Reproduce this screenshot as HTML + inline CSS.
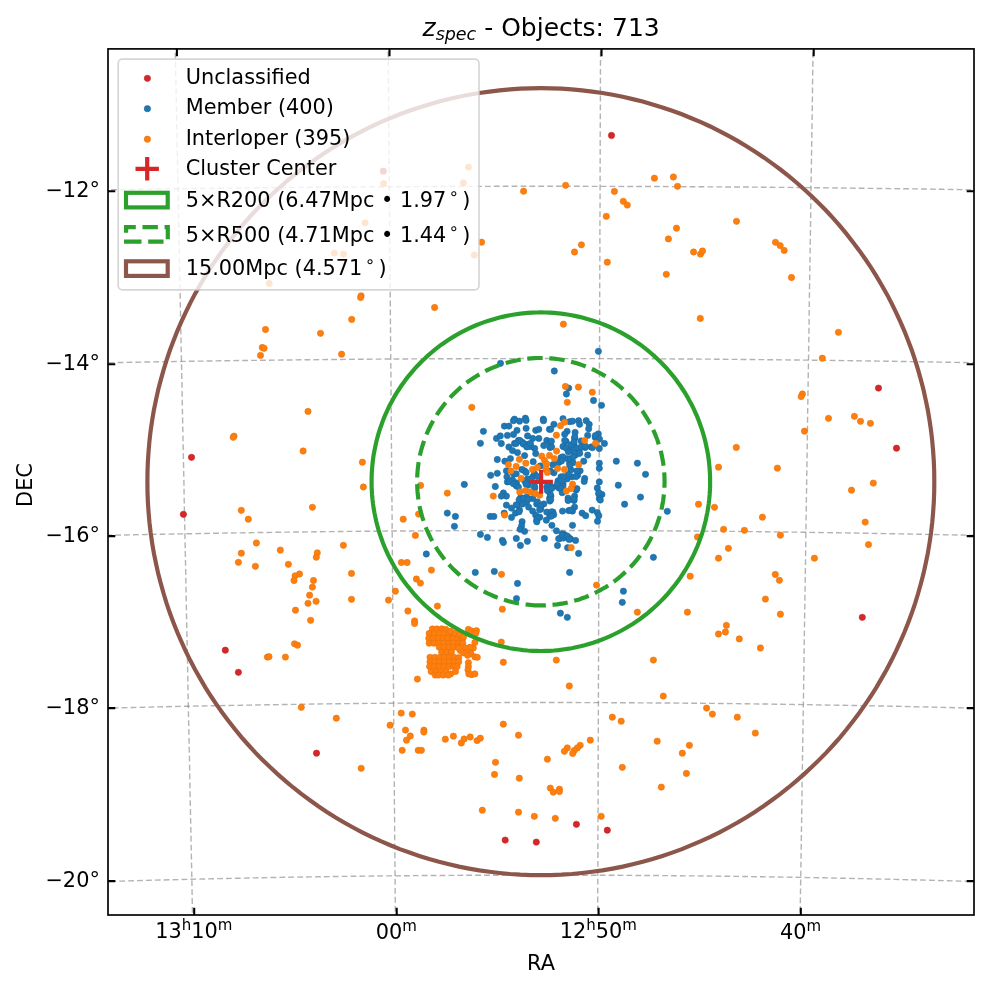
<!DOCTYPE html>
<html><head><meta charset="utf-8"><title>z_spec - Objects: 713</title>
<style>html,body{margin:0;padding:0;background:#fff}svg{display:block}text{font-family:"DejaVu Sans","Liberation Sans",sans-serif;fill:#000}</style></head><body>
<svg width="989" height="989" viewBox="0 0 989 989">
<rect width="989" height="989" fill="#fff"/>
<defs><clipPath id="ax"><rect x="108.0" y="48.9" width="866.0" height="866.1"/></clipPath></defs>
<g clip-path="url(#ax)">
<g fill="none" stroke="#808080" stroke-opacity="0.6" stroke-width="1.4" stroke-dasharray="5.8 3.1">
<path d="M-144.5,20.3 L-127.0,19.9 L-109.4,19.6 L-91.9,19.3 L-74.4,18.9 L-56.9,18.6 L-39.5,18.3 L-22.0,18.0 L-4.6,17.7 L12.8,17.5 L30.3,17.2 L47.7,16.9 L65.1,16.7 L82.4,16.5 L99.8,16.2 L117.2,16.0 L134.5,15.8 L151.9,15.6 L169.2,15.4 L186.5,15.2 L203.8,15.0 L221.1,14.9 L238.4,14.7 L255.7,14.5 L273.0,14.4 L290.3,14.3 L307.6,14.1 L324.8,14.0 L342.1,13.9 L359.3,13.8 L376.6,13.7 L393.8,13.7 L411.1,13.6 L428.3,13.5 L445.6,13.5 L462.8,13.4 L480.0,13.4 L497.3,13.4 L514.5,13.4 L531.8,13.3 L549.0,13.3 L566.2,13.4 L583.5,13.4 L600.7,13.4 L617.9,13.4 L635.2,13.5 L652.4,13.5 L669.6,13.6 L686.9,13.7 L704.1,13.7 L721.4,13.8 L738.7,13.9 L755.9,14.0 L773.2,14.1 L790.5,14.3 L807.7,14.4 L825.0,14.5 L842.3,14.7 L859.6,14.9 L876.9,15.0 L894.2,15.2 L911.6,15.4 L928.9,15.6 L946.2,15.8 L963.6,16.0 L980.9,16.2 L998.3,16.5 L1015.7,16.7 L1033.1,16.9 L1050.5,17.2 L1067.9,17.5 L1085.3,17.7 L1102.8,18.0 L1120.2,18.3 L1137.7,18.6 L1155.2,18.9 L1172.7,19.3 L1190.2,19.6 L1207.7,19.9 L1225.2,20.3"/>
<path d="M-138.0,194.8 L-120.6,194.4 L-103.2,194.0 L-85.9,193.6 L-68.6,193.2 L-51.3,192.8 L-34.0,192.4 L-16.7,192.0 L0.6,191.7 L17.9,191.4 L35.1,191.0 L52.3,190.7 L69.6,190.4 L86.8,190.1 L104.0,189.8 L121.2,189.6 L138.4,189.3 L155.5,189.0 L172.7,188.8 L189.9,188.6 L207.0,188.4 L224.2,188.2 L241.3,188.0 L258.4,187.8 L275.5,187.6 L292.6,187.4 L309.8,187.3 L326.9,187.1 L344.0,187.0 L361.1,186.9 L378.1,186.8 L395.2,186.7 L412.3,186.6 L429.4,186.5 L446.5,186.5 L463.5,186.4 L480.6,186.4 L497.7,186.3 L514.8,186.3 L531.8,186.3 L548.9,186.3 L566.0,186.3 L583.0,186.3 L600.1,186.4 L617.2,186.4 L634.3,186.5 L651.3,186.5 L668.4,186.6 L685.5,186.7 L702.6,186.8 L719.7,186.9 L736.8,187.0 L753.9,187.1 L771.0,187.3 L788.1,187.4 L805.2,187.6 L822.3,187.8 L839.5,188.0 L856.6,188.2 L873.7,188.4 L890.9,188.6 L908.0,188.8 L925.2,189.0 L942.4,189.3 L959.6,189.6 L976.8,189.8 L994.0,190.1 L1011.2,190.4 L1028.4,190.7 L1045.6,191.0 L1062.9,191.4 L1080.1,191.7 L1097.4,192.0 L1114.7,192.4 L1132.0,192.8 L1149.3,193.2 L1166.6,193.6 L1184.0,194.0 L1201.3,194.4 L1218.7,194.8"/>
<path d="M-131.5,368.6 L-114.3,368.0 L-97.1,367.6 L-79.9,367.1 L-62.7,366.6 L-45.6,366.2 L-28.5,365.7 L-11.3,365.3 L5.8,364.9 L22.9,364.5 L39.9,364.1 L57.0,363.7 L74.1,363.4 L91.1,363.0 L108.1,362.7 L125.2,362.4 L142.2,362.1 L159.2,361.8 L176.2,361.5 L193.2,361.2 L210.2,361.0 L227.2,360.7 L244.1,360.5 L261.1,360.3 L278.1,360.1 L295.0,359.9 L311.9,359.7 L328.9,359.5 L345.8,359.4 L362.8,359.2 L379.7,359.1 L396.6,359.0 L413.5,358.9 L430.4,358.8 L447.4,358.7 L464.3,358.7 L481.2,358.6 L498.1,358.6 L515.0,358.6 L531.9,358.5 L548.8,358.5 L565.7,358.6 L582.6,358.6 L599.6,358.6 L616.5,358.7 L633.4,358.7 L650.3,358.8 L667.2,358.9 L684.1,359.0 L701.1,359.1 L718.0,359.2 L734.9,359.4 L751.8,359.5 L768.8,359.7 L785.7,359.9 L802.7,360.1 L819.6,360.3 L836.6,360.5 L853.6,360.7 L870.6,361.0 L887.5,361.2 L904.5,361.5 L921.5,361.8 L938.5,362.1 L955.6,362.4 L972.6,362.7 L989.6,363.0 L1006.7,363.4 L1023.7,363.7 L1040.8,364.1 L1057.9,364.5 L1075.0,364.9 L1092.1,365.3 L1109.2,365.7 L1126.3,366.2 L1143.5,366.6 L1160.6,367.1 L1177.8,367.6 L1195.0,368.0 L1212.2,368.6"/>
<path d="M-125.0,542.0 L-107.9,541.4 L-90.9,540.8 L-73.9,540.3 L-56.9,539.7 L-39.9,539.2 L-23.0,538.7 L-6.0,538.2 L10.9,537.8 L27.8,537.3 L44.7,536.9 L61.7,536.4 L78.5,536.0 L95.4,535.6 L112.3,535.2 L129.2,534.9 L146.0,534.5 L162.9,534.2 L179.7,533.9 L196.5,533.6 L213.4,533.3 L230.2,533.0 L247.0,532.7 L263.8,532.5 L280.6,532.2 L297.4,532.0 L314.1,531.8 L330.9,531.6 L347.7,531.4 L364.5,531.3 L381.2,531.1 L398.0,531.0 L414.7,530.9 L431.5,530.8 L448.3,530.7 L465.0,530.6 L481.8,530.6 L498.5,530.5 L515.2,530.5 L532.0,530.5 L548.7,530.5 L565.5,530.5 L582.2,530.5 L599.0,530.6 L615.7,530.6 L632.5,530.7 L649.2,530.8 L666.0,530.9 L682.8,531.0 L699.5,531.1 L716.3,531.3 L733.0,531.4 L749.8,531.6 L766.6,531.8 L783.4,532.0 L800.2,532.2 L817.0,532.5 L833.8,532.7 L850.6,533.0 L867.4,533.3 L884.2,533.6 L901.0,533.9 L917.9,534.2 L934.7,534.5 L951.6,534.9 L968.4,535.2 L985.3,535.6 L1002.2,536.0 L1019.1,536.4 L1036.0,536.9 L1052.9,537.3 L1069.8,537.8 L1086.8,538.2 L1103.7,538.7 L1120.7,539.2 L1137.7,539.7 L1154.7,540.3 L1171.7,540.8 L1188.7,541.4 L1205.7,542.0"/>
<path d="M-118.5,715.5 L-101.6,714.8 L-84.8,714.2 L-67.9,713.6 L-51.1,713.0 L-34.3,712.4 L-17.5,711.8 L-0.7,711.3 L16.1,710.7 L32.8,710.2 L49.6,709.7 L66.3,709.2 L83.0,708.8 L99.7,708.3 L116.5,707.9 L133.2,707.5 L149.8,707.1 L166.5,706.7 L183.2,706.3 L199.9,706.0 L216.5,705.7 L233.2,705.4 L249.8,705.1 L266.5,704.8 L283.1,704.5 L299.7,704.3 L316.3,704.0 L332.9,703.8 L349.6,703.6 L366.2,703.4 L382.8,703.3 L399.4,703.1 L416.0,703.0 L432.6,702.9 L449.1,702.8 L465.7,702.7 L482.3,702.6 L498.9,702.6 L515.5,702.5 L532.1,702.5 L548.7,702.5 L565.2,702.5 L581.8,702.6 L598.4,702.6 L615.0,702.7 L631.6,702.8 L648.2,702.9 L664.8,703.0 L681.4,703.1 L698.0,703.3 L714.6,703.4 L731.2,703.6 L747.8,703.8 L764.4,704.0 L781.0,704.3 L797.7,704.5 L814.3,704.8 L830.9,705.1 L847.6,705.4 L864.2,705.7 L880.9,706.0 L897.5,706.3 L914.2,706.7 L930.9,707.1 L947.6,707.5 L964.3,707.9 L981.0,708.3 L997.7,708.8 L1014.4,709.2 L1031.2,709.7 L1047.9,710.2 L1064.7,710.7 L1081.5,711.3 L1098.2,711.8 L1115.0,712.4 L1131.8,713.0 L1148.7,713.6 L1165.5,714.2 L1182.4,714.8 L1199.2,715.5"/>
<path d="M-112.0,889.5 L-95.3,888.8 L-78.6,888.1 L-61.9,887.4 L-45.3,886.7 L-28.6,886.1 L-12.0,885.4 L4.6,884.8 L21.2,884.2 L37.8,883.7 L54.4,883.1 L71.0,882.6 L87.5,882.1 L104.1,881.6 L120.6,881.1 L137.2,880.6 L153.7,880.2 L170.2,879.8 L186.7,879.4 L203.2,879.0 L219.7,878.6 L236.2,878.3 L252.7,877.9 L269.1,877.6 L285.6,877.3 L302.1,877.0 L318.5,876.8 L335.0,876.5 L351.4,876.3 L367.9,876.1 L384.3,875.9 L400.7,875.8 L417.2,875.6 L433.6,875.5 L450.0,875.4 L466.5,875.3 L482.9,875.2 L499.3,875.2 L515.7,875.1 L532.2,875.1 L548.6,875.1 L565.0,875.1 L581.4,875.2 L597.8,875.2 L614.3,875.3 L630.7,875.4 L647.1,875.5 L663.6,875.6 L680.0,875.8 L696.4,875.9 L712.9,876.1 L729.3,876.3 L745.8,876.5 L762.2,876.8 L778.7,877.0 L795.1,877.3 L811.6,877.6 L828.1,877.9 L844.6,878.3 L861.0,878.6 L877.5,879.0 L894.0,879.4 L910.5,879.8 L927.1,880.2 L943.6,880.6 L960.1,881.1 L976.7,881.6 L993.2,882.1 L1009.8,882.6 L1026.3,883.1 L1042.9,883.7 L1059.5,884.2 L1076.1,884.8 L1092.7,885.4 L1109.4,886.1 L1126.0,886.7 L1142.7,887.4 L1159.3,888.1 L1176.0,888.8 L1192.7,889.5"/>
<path d="M-105.4,1064.4 L-88.9,1063.7 L-72.4,1062.9 L-55.9,1062.1 L-39.4,1061.4 L-22.9,1060.7 L-6.5,1060.0 L10.0,1059.3 L26.4,1058.7 L42.8,1058.1 L59.3,1057.4 L75.7,1056.9 L92.1,1056.3 L108.4,1055.7 L124.8,1055.2 L141.2,1054.7 L157.5,1054.2 L173.9,1053.8 L190.2,1053.3 L206.6,1052.9 L222.9,1052.5 L239.2,1052.1 L255.5,1051.8 L271.8,1051.4 L288.1,1051.1 L304.4,1050.8 L320.7,1050.5 L337.0,1050.2 L353.3,1050.0 L369.6,1049.8 L385.9,1049.6 L402.1,1049.4 L418.4,1049.2 L434.7,1049.1 L450.9,1049.0 L467.2,1048.9 L483.5,1048.8 L499.7,1048.7 L516.0,1048.7 L532.2,1048.7 L548.5,1048.7 L564.8,1048.7 L581.0,1048.7 L597.3,1048.8 L613.5,1048.9 L629.8,1049.0 L646.1,1049.1 L662.3,1049.2 L678.6,1049.4 L694.9,1049.6 L711.2,1049.8 L727.4,1050.0 L743.7,1050.2 L760.0,1050.5 L776.3,1050.8 L792.6,1051.1 L808.9,1051.4 L825.2,1051.8 L841.5,1052.1 L857.8,1052.5 L874.2,1052.9 L890.5,1053.3 L906.8,1053.8 L923.2,1054.2 L939.6,1054.7 L955.9,1055.2 L972.3,1055.7 L988.7,1056.3 L1005.1,1056.9 L1021.5,1057.4 L1037.9,1058.1 L1054.3,1058.7 L1070.8,1059.3 L1087.2,1060.0 L1103.7,1060.7 L1120.1,1061.4 L1136.6,1062.1 L1153.1,1062.9 L1169.6,1063.7 L1186.2,1064.4"/>
<path d="M-42.8,-69.1 L-42.2,-49.8 L-41.6,-30.5 L-41.0,-11.3 L-40.4,8.0 L-39.8,27.2 L-39.2,46.4 L-38.6,65.6 L-38.0,84.8 L-37.3,104.0 L-36.7,123.2 L-36.1,142.4 L-35.5,161.5 L-34.9,180.6 L-34.3,199.8 L-33.7,218.9 L-33.1,238.0 L-32.5,257.1 L-31.9,276.2 L-31.3,295.3 L-30.7,314.4 L-30.1,333.5 L-29.5,352.5 L-28.9,371.6 L-28.3,390.7 L-27.7,409.7 L-27.0,428.8 L-26.4,447.9 L-25.8,466.9 L-25.2,486.0 L-24.6,505.0 L-24.0,524.1 L-23.4,543.1 L-22.8,562.2 L-22.2,581.3 L-21.6,600.3 L-21.0,619.4 L-20.4,638.5 L-19.8,657.5 L-19.2,676.6 L-18.6,695.7 L-18.0,714.8 L-17.4,733.9 L-16.8,753.0 L-16.2,772.1 L-15.6,791.2 L-14.9,810.3 L-14.3,829.5 L-13.7,848.6 L-13.1,867.8 L-12.5,886.9 L-11.9,906.1 L-11.3,925.3 L-10.7,944.5 L-10.1,963.7 L-9.5,982.9 L-8.9,1002.2 L-8.2,1021.5 L-7.6,1040.7 L-7.0,1060.0"/>
<path d="M172.8,-71.8 L173.2,-52.6 L173.6,-33.4 L174.0,-14.2 L174.3,5.0 L174.7,24.2 L175.1,43.3 L175.5,62.5 L175.9,81.6 L176.3,100.7 L176.6,119.8 L177.0,138.9 L177.4,157.9 L177.8,177.0 L178.2,196.1 L178.5,215.1 L178.9,234.2 L179.3,253.2 L179.7,272.2 L180.1,291.2 L180.4,310.2 L180.8,329.2 L181.2,348.3 L181.6,367.3 L182.0,386.2 L182.3,405.2 L182.7,424.2 L183.1,443.2 L183.5,462.2 L183.9,481.2 L184.2,500.2 L184.6,519.2 L185.0,538.1 L185.4,557.1 L185.8,576.1 L186.1,595.1 L186.5,614.1 L186.9,633.1 L187.3,652.1 L187.7,671.1 L188.0,690.1 L188.4,709.2 L188.8,728.2 L189.2,747.2 L189.6,766.3 L189.9,785.3 L190.3,804.4 L190.7,823.4 L191.1,842.5 L191.5,861.6 L191.9,880.7 L192.2,899.8 L192.6,918.9 L193.0,938.1 L193.4,957.2 L193.8,976.4 L194.1,995.6 L194.5,1014.8 L194.9,1034.0 L195.3,1053.2"/>
<path d="M387.1,-73.2 L387.3,-54.1 L387.5,-34.9 L387.6,-15.7 L387.8,3.4 L387.9,22.5 L388.1,41.6 L388.3,60.7 L388.4,79.8 L388.6,98.9 L388.7,117.9 L388.9,137.0 L389.1,156.0 L389.2,175.0 L389.4,194.0 L389.5,213.0 L389.7,232.0 L389.8,251.0 L390.0,270.0 L390.2,289.0 L390.3,308.0 L390.5,326.9 L390.6,345.9 L390.8,364.9 L391.0,383.8 L391.1,402.8 L391.3,421.7 L391.4,440.7 L391.6,459.6 L391.7,478.6 L391.9,497.5 L392.1,516.5 L392.2,535.4 L392.4,554.4 L392.5,573.3 L392.7,592.3 L392.8,611.2 L393.0,630.2 L393.2,649.2 L393.3,668.1 L393.5,687.1 L393.6,706.1 L393.8,725.1 L394.0,744.1 L394.1,763.1 L394.3,782.1 L394.4,801.1 L394.6,820.1 L394.7,839.2 L394.9,858.2 L395.1,877.3 L395.2,896.4 L395.4,915.5 L395.5,934.6 L395.7,953.7 L395.9,972.8 L396.0,991.9 L396.2,1011.1 L396.3,1030.3 L396.5,1049.5"/>
<path d="M600.9,-73.5 L600.9,-54.3 L600.8,-35.2 L600.7,-16.0 L600.7,3.1 L600.6,22.2 L600.6,41.3 L600.5,60.4 L600.4,79.5 L600.4,98.5 L600.3,117.6 L600.2,136.6 L600.2,155.6 L600.1,174.7 L600.1,193.7 L600.0,212.7 L599.9,231.7 L599.9,250.7 L599.8,269.6 L599.7,288.6 L599.7,307.6 L599.6,326.5 L599.6,345.5 L599.5,364.4 L599.4,383.4 L599.4,402.3 L599.3,421.3 L599.2,440.2 L599.2,459.2 L599.1,478.1 L599.1,497.1 L599.0,516.0 L598.9,534.9 L598.9,553.9 L598.8,572.8 L598.7,591.8 L598.7,610.7 L598.6,629.7 L598.6,648.6 L598.5,667.6 L598.4,686.6 L598.4,705.5 L598.3,724.5 L598.2,743.5 L598.2,762.5 L598.1,781.5 L598.1,800.5 L598.0,819.6 L597.9,838.6 L597.9,857.6 L597.8,876.7 L597.7,895.8 L597.7,914.8 L597.6,933.9 L597.5,953.0 L597.5,972.2 L597.4,991.3 L597.4,1010.5 L597.3,1029.6 L597.2,1048.8"/>
<path d="M814.9,-72.6 L814.6,-53.4 L814.4,-34.2 L814.1,-15.0 L813.8,4.1 L813.5,23.3 L813.2,42.4 L812.9,61.5 L812.6,80.6 L812.4,99.7 L812.1,118.8 L811.8,137.8 L811.5,156.9 L811.2,175.9 L810.9,195.0 L810.7,214.0 L810.4,233.0 L810.1,252.0 L809.8,271.0 L809.5,290.0 L809.2,309.0 L809.0,328.0 L808.7,347.0 L808.4,366.0 L808.1,385.0 L807.8,403.9 L807.5,422.9 L807.3,441.9 L807.0,460.8 L806.7,479.8 L806.4,498.8 L806.1,517.7 L805.8,536.7 L805.6,555.7 L805.3,574.6 L805.0,593.6 L804.7,612.6 L804.4,631.6 L804.1,650.5 L803.9,669.5 L803.6,688.5 L803.3,707.5 L803.0,726.5 L802.7,745.5 L802.4,764.6 L802.1,783.6 L801.9,802.6 L801.6,821.7 L801.3,840.7 L801.0,859.8 L800.7,878.9 L800.4,898.0 L800.2,917.1 L799.9,936.2 L799.6,955.3 L799.3,974.5 L799.0,993.6 L798.7,1012.8 L798.4,1032.0 L798.2,1051.2"/>
<path d="M1029.9,-70.4 L1029.4,-51.2 L1028.9,-31.9 L1028.4,-12.7 L1027.9,6.5 L1027.4,25.7 L1026.8,44.9 L1026.3,64.1 L1025.8,83.2 L1025.3,102.4 L1024.8,121.5 L1024.3,140.6 L1023.8,159.8 L1023.3,178.9 L1022.8,198.0 L1022.3,217.0 L1021.8,236.1 L1021.2,255.2 L1020.7,274.3 L1020.2,293.3 L1019.7,312.4 L1019.2,331.4 L1018.7,350.4 L1018.2,369.5 L1017.7,388.5 L1017.2,407.5 L1016.7,426.6 L1016.2,445.6 L1015.7,464.6 L1015.2,483.6 L1014.7,502.7 L1014.2,521.7 L1013.6,540.7 L1013.1,559.7 L1012.6,578.7 L1012.1,597.8 L1011.6,616.8 L1011.1,635.8 L1010.6,654.9 L1010.1,673.9 L1009.6,693.0 L1009.1,712.0 L1008.6,731.1 L1008.1,750.2 L1007.6,769.2 L1007.1,788.3 L1006.5,807.4 L1006.0,826.5 L1005.5,845.6 L1005.0,864.7 L1004.5,883.9 L1004.0,903.0 L1003.5,922.2 L1003.0,941.4 L1002.5,960.5 L1002.0,979.7 L1001.4,999.0 L1000.9,1018.2 L1000.4,1037.4 L999.9,1056.7"/>
</g>
<g fill="#d62728" stroke="#c12223" stroke-width="0.6">
<circle cx="383.3" cy="171.2" r="3.15"/><circle cx="611.5" cy="135.4" r="3.15"/><circle cx="878.5" cy="388.1" r="3.15"/><circle cx="896.5" cy="448.2" r="3.15"/><circle cx="191.5" cy="457.3" r="3.15"/><circle cx="183.4" cy="514.3" r="3.15"/><circle cx="862.3" cy="617.3" r="3.15"/><circle cx="225.3" cy="650.2" r="3.15"/><circle cx="238.4" cy="672.3" r="3.15"/><circle cx="316.5" cy="753.2" r="3.15"/><circle cx="505.2" cy="840.1" r="3.15"/><circle cx="576.4" cy="824.3" r="3.15"/><circle cx="607.3" cy="830.2" r="3.15"/><circle cx="536.3" cy="842.1" r="3.15"/>
</g>
<g fill="#1f77b4" stroke="#1b699f" stroke-width="0.6">
<circle cx="500.5" cy="363.3" r="3.15"/><circle cx="598.4" cy="351.3" r="3.15"/><circle cx="554.3" cy="371" r="3.15"/><circle cx="568.7" cy="388.1" r="3.15"/><circle cx="566.4" cy="394" r="3.15"/><circle cx="464.3" cy="484.4" r="3.15"/><circle cx="447.3" cy="513.1" r="3.15"/><circle cx="455.4" cy="516.4" r="3.15"/><circle cx="454.4" cy="526.3" r="3.15"/><circle cx="426.3" cy="554" r="3.15"/><circle cx="622.3" cy="602.3" r="3.15"/><circle cx="560.4" cy="613.2" r="3.15"/><circle cx="567.3" cy="617.3" r="3.15"/><circle cx="483.4" cy="431.3" r="3.15"/><circle cx="480.4" cy="443.3" r="3.15"/><circle cx="514.5" cy="419.2" r="3.15"/><circle cx="519.5" cy="421.2" r="3.15"/><circle cx="525.4" cy="418.2" r="3.15"/><circle cx="543.3" cy="419.2" r="3.15"/><circle cx="504.4" cy="426.1" r="3.15"/><circle cx="508.9" cy="426.1" r="3.15"/><circle cx="526.1" cy="428.3" r="3.15"/><circle cx="517" cy="430.3" r="3.15"/><circle cx="535.7" cy="430.3" r="3.15"/><circle cx="538.8" cy="429.3" r="3.15"/><circle cx="549.4" cy="429.3" r="3.15"/><circle cx="553.9" cy="424.3" r="3.15"/><circle cx="563" cy="418.7" r="3.15"/><circle cx="567.1" cy="431.3" r="3.15"/><circle cx="569.6" cy="421.7" r="3.15"/><circle cx="496.5" cy="438.4" r="3.15"/><circle cx="500.3" cy="435.9" r="3.15"/><circle cx="501.3" cy="443.5" r="3.15"/><circle cx="507.4" cy="435.4" r="3.15"/><circle cx="513.5" cy="434.4" r="3.15"/><circle cx="527.6" cy="435.9" r="3.15"/><circle cx="532.7" cy="438.4" r="3.15"/><circle cx="538.8" cy="438.4" r="3.15"/><circle cx="546.8" cy="440.4" r="3.15"/><circle cx="549.9" cy="442.5" r="3.15"/><circle cx="508.9" cy="447" r="3.15"/><circle cx="514.5" cy="443.5" r="3.15"/><circle cx="518.5" cy="440.4" r="3.15"/><circle cx="522.6" cy="442.5" r="3.15"/><circle cx="526.6" cy="444.5" r="3.15"/><circle cx="530.7" cy="446.5" r="3.15"/><circle cx="534.7" cy="448.5" r="3.15"/><circle cx="512.5" cy="450.6" r="3.15"/><circle cx="517.5" cy="452.6" r="3.15"/><circle cx="524.6" cy="455.6" r="3.15"/><circle cx="535.7" cy="453.6" r="3.15"/><circle cx="543.8" cy="445.5" r="3.15"/><circle cx="549.9" cy="447.5" r="3.15"/><circle cx="566.1" cy="441.5" r="3.15"/><circle cx="563" cy="446.5" r="3.15"/><circle cx="568.1" cy="448.5" r="3.15"/><circle cx="497.3" cy="459.5" r="3.15"/><circle cx="504.9" cy="461.2" r="3.15"/><circle cx="510.4" cy="458.6" r="3.15"/><circle cx="533.2" cy="461.7" r="3.15"/><circle cx="561" cy="457.6" r="3.15"/><circle cx="567.1" cy="458.6" r="3.15"/><circle cx="569.6" cy="462.7" r="3.15"/><circle cx="490.7" cy="475.3" r="3.15"/><circle cx="497.3" cy="473.3" r="3.15"/><circle cx="506.4" cy="470.8" r="3.15"/><circle cx="506.9" cy="476.8" r="3.15"/><circle cx="495.3" cy="486.5" r="3.15"/><circle cx="507.4" cy="481.9" r="3.15"/><circle cx="512.5" cy="479.9" r="3.15"/><circle cx="516.5" cy="482.9" r="3.15"/><circle cx="503.4" cy="493" r="3.15"/><circle cx="506.4" cy="496.1" r="3.15"/><circle cx="501.3" cy="496.1" r="3.15"/><circle cx="524.6" cy="470.8" r="3.15"/><circle cx="527.6" cy="478.9" r="3.15"/><circle cx="532.7" cy="476.8" r="3.15"/><circle cx="552.9" cy="464.7" r="3.15"/><circle cx="553.9" cy="472.8" r="3.15"/><circle cx="558" cy="480.9" r="3.15"/><circle cx="561" cy="476.8" r="3.15"/><circle cx="563" cy="483.9" r="3.15"/><circle cx="567.1" cy="478.9" r="3.15"/><circle cx="559" cy="488" r="3.15"/><circle cx="563" cy="491" r="3.15"/><circle cx="548.9" cy="491" r="3.15"/><circle cx="550.9" cy="496.1" r="3.15"/><circle cx="546.8" cy="487" r="3.15"/><circle cx="526.6" cy="497.1" r="3.15"/><circle cx="532.7" cy="498.6" r="3.15"/><circle cx="520.6" cy="497.6" r="3.15"/><circle cx="568.1" cy="498.1" r="3.15"/><circle cx="513.5" cy="473.8" r="3.15"/><circle cx="534.7" cy="488" r="3.15"/><circle cx="593.5" cy="400.5" r="3.15"/><circle cx="601.5" cy="405.3" r="3.15"/><circle cx="572.5" cy="421.2" r="3.15"/><circle cx="578.6" cy="420.7" r="3.15"/><circle cx="579.6" cy="424.3" r="3.15"/><circle cx="586.2" cy="420.7" r="3.15"/><circle cx="589.2" cy="424.3" r="3.15"/><circle cx="588.7" cy="428.8" r="3.15"/><circle cx="575.1" cy="432.4" r="3.15"/><circle cx="587.7" cy="435.4" r="3.15"/><circle cx="598.3" cy="433.9" r="3.15"/><circle cx="595.3" cy="437.4" r="3.15"/><circle cx="604.4" cy="443.5" r="3.15"/><circle cx="599.3" cy="448.5" r="3.15"/><circle cx="574.6" cy="438.4" r="3.15"/><circle cx="574" cy="444.5" r="3.15"/><circle cx="581.1" cy="441" r="3.15"/><circle cx="591.2" cy="447" r="3.15"/><circle cx="585.2" cy="447.5" r="3.15"/><circle cx="579.1" cy="450.6" r="3.15"/><circle cx="576.1" cy="454.6" r="3.15"/><circle cx="587.7" cy="455.1" r="3.15"/><circle cx="571" cy="450.6" r="3.15"/><circle cx="570.5" cy="458.6" r="3.15"/><circle cx="583.7" cy="461.2" r="3.15"/><circle cx="599.3" cy="463.2" r="3.15"/><circle cx="599.3" cy="468.3" r="3.15"/><circle cx="616.3" cy="461.2" r="3.15"/><circle cx="637.4" cy="463.2" r="3.15"/><circle cx="645.5" cy="474.3" r="3.15"/><circle cx="618.3" cy="485.2" r="3.15"/><circle cx="640.5" cy="497.1" r="3.15"/><circle cx="599.3" cy="481.9" r="3.15"/><circle cx="597.3" cy="488" r="3.15"/><circle cx="598.8" cy="494" r="3.15"/><circle cx="601.9" cy="494.5" r="3.15"/><circle cx="599.3" cy="498.6" r="3.15"/><circle cx="580.1" cy="470.8" r="3.15"/><circle cx="577.6" cy="475.3" r="3.15"/><circle cx="584.7" cy="478.4" r="3.15"/><circle cx="584.2" cy="481.4" r="3.15"/><circle cx="576.1" cy="490" r="3.15"/><circle cx="574.6" cy="496.1" r="3.15"/><circle cx="571" cy="469.8" r="3.15"/><circle cx="572" cy="476.8" r="3.15"/><circle cx="573" cy="462.7" r="3.15"/><circle cx="504.2" cy="513.1" r="3.15"/><circle cx="490.2" cy="516.4" r="3.15"/><circle cx="493.8" cy="516.4" r="3.15"/><circle cx="506.4" cy="505.1" r="3.15"/><circle cx="511.5" cy="508.1" r="3.15"/><circle cx="511.5" cy="517.4" r="3.15"/><circle cx="515.5" cy="513.1" r="3.15"/><circle cx="519.5" cy="510.1" r="3.15"/><circle cx="517.5" cy="505.1" r="3.15"/><circle cx="522.6" cy="504" r="3.15"/><circle cx="526.6" cy="502" r="3.15"/><circle cx="528.6" cy="507.1" r="3.15"/><circle cx="532.7" cy="511.1" r="3.15"/><circle cx="535.7" cy="515.2" r="3.15"/><circle cx="536.7" cy="520.2" r="3.15"/><circle cx="539.8" cy="517.2" r="3.15"/><circle cx="540.8" cy="509.1" r="3.15"/><circle cx="536.7" cy="504" r="3.15"/><circle cx="543.8" cy="504" r="3.15"/><circle cx="549.9" cy="501" r="3.15"/><circle cx="546.8" cy="512.1" r="3.15"/><circle cx="552.9" cy="512.1" r="3.15"/><circle cx="549.9" cy="516.2" r="3.15"/><circle cx="546.3" cy="520.2" r="3.15"/><circle cx="551.9" cy="525.3" r="3.15"/><circle cx="556.5" cy="530.8" r="3.15"/><circle cx="522.1" cy="521.7" r="3.15"/><circle cx="521.6" cy="525.8" r="3.15"/><circle cx="520.1" cy="529.3" r="3.15"/><circle cx="524.6" cy="531.3" r="3.15"/><circle cx="480.4" cy="534.4" r="3.15"/><circle cx="487.4" cy="537.4" r="3.15"/><circle cx="502.4" cy="540.4" r="3.15"/><circle cx="503.4" cy="542.5" r="3.15"/><circle cx="516.3" cy="538.4" r="3.15"/><circle cx="527.4" cy="541.3" r="3.15"/><circle cx="520.4" cy="545.5" r="3.15"/><circle cx="544.4" cy="538.4" r="3.15"/><circle cx="557.5" cy="545.5" r="3.15"/><circle cx="560" cy="538.4" r="3.15"/><circle cx="564" cy="534.4" r="3.15"/><circle cx="568.6" cy="537.4" r="3.15"/><circle cx="567.6" cy="547.7" r="3.15"/><circle cx="562.5" cy="511.1" r="3.15"/><circle cx="568.6" cy="510.6" r="3.15"/><circle cx="568.1" cy="500.5" r="3.15"/><circle cx="475.3" cy="572.4" r="3.15"/><circle cx="494.3" cy="571.4" r="3.15"/><circle cx="517.5" cy="583.4" r="3.15"/><circle cx="516.5" cy="598.6" r="3.15"/><circle cx="569.6" cy="572.4" r="3.15"/><circle cx="574" cy="500.5" r="3.15"/><circle cx="574.6" cy="507.1" r="3.15"/><circle cx="572.5" cy="511.1" r="3.15"/><circle cx="570.5" cy="510.1" r="3.15"/><circle cx="582.1" cy="513.1" r="3.15"/><circle cx="585.7" cy="515.7" r="3.15"/><circle cx="592.2" cy="510.1" r="3.15"/><circle cx="597.3" cy="512.6" r="3.15"/><circle cx="598.8" cy="515.7" r="3.15"/><circle cx="597.5" cy="521.2" r="3.15"/><circle cx="572.5" cy="525.3" r="3.15"/><circle cx="570.5" cy="538.9" r="3.15"/><circle cx="575.6" cy="540.4" r="3.15"/><circle cx="578.6" cy="553.4" r="3.15"/><circle cx="624.6" cy="504.2" r="3.15"/><circle cx="600.3" cy="500" r="3.15"/><circle cx="667.3" cy="511.3" r="3.15"/><circle cx="653.4" cy="557.3" r="3.15"/><circle cx="623.4" cy="591.2" r="3.15"/><circle cx="513.4" cy="420.7" r="3.15"/><circle cx="526.1" cy="420.4" r="3.15"/><circle cx="543.5" cy="420.7" r="3.15"/><circle cx="551.6" cy="446.9" r="3.15"/><circle cx="564.7" cy="434.2" r="3.15"/><circle cx="564.7" cy="440.5" r="3.15"/><circle cx="516.2" cy="443.4" r="3.15"/><circle cx="519.8" cy="440.5" r="3.15"/><circle cx="523.3" cy="444.1" r="3.15"/><circle cx="526.8" cy="446.9" r="3.15"/><circle cx="530.4" cy="443.4" r="3.15"/><circle cx="509.2" cy="481.6" r="3.15"/><circle cx="513.4" cy="483.7" r="3.15"/><circle cx="516.2" cy="473.8" r="3.15"/><circle cx="521.9" cy="469.5" r="3.15"/><circle cx="526.1" cy="472.4" r="3.15"/><circle cx="524.7" cy="480.9" r="3.15"/><circle cx="528.3" cy="485.1" r="3.15"/><circle cx="516.2" cy="485.8" r="3.15"/><circle cx="534.6" cy="473.8" r="3.15"/><circle cx="537.5" cy="476.6" r="3.15"/><circle cx="550.2" cy="471" r="3.15"/><circle cx="558.7" cy="462.5" r="3.15"/><circle cx="562.9" cy="456.8" r="3.15"/><circle cx="561.5" cy="461" r="3.15"/><circle cx="557.3" cy="486.5" r="3.15"/><circle cx="562.9" cy="485.8" r="3.15"/><circle cx="549.5" cy="486.5" r="3.15"/><circle cx="534.6" cy="486.5" r="3.15"/><circle cx="540.3" cy="466" r="3.15"/><circle cx="550.7" cy="429.2" r="3.15"/><circle cx="574.8" cy="437" r="3.15"/><circle cx="595.3" cy="435.6" r="3.15"/><circle cx="599.5" cy="439.1" r="3.15"/><circle cx="566.3" cy="448.3" r="3.15"/><circle cx="571.2" cy="444.8" r="3.15"/><circle cx="574.1" cy="441.9" r="3.15"/><circle cx="576.9" cy="448.3" r="3.15"/><circle cx="581.1" cy="446.9" r="3.15"/><circle cx="585.4" cy="446.2" r="3.15"/><circle cx="592.5" cy="447.6" r="3.15"/><circle cx="568.4" cy="451.8" r="3.15"/><circle cx="574.1" cy="452.6" r="3.15"/><circle cx="579.7" cy="453.3" r="3.15"/><circle cx="551.4" cy="441.2" r="3.15"/><circle cx="573.4" cy="456.8" r="3.15"/><circle cx="557.1" cy="462.5" r="3.15"/><circle cx="569.8" cy="465.3" r="3.15"/><circle cx="576.9" cy="471" r="3.15"/><circle cx="576.2" cy="476.6" r="3.15"/><circle cx="568.4" cy="474.5" r="3.15"/><circle cx="563.4" cy="476.6" r="3.15"/><circle cx="560.6" cy="480.9" r="3.15"/><circle cx="552.1" cy="487.2" r="3.15"/><circle cx="576.9" cy="488.6" r="3.15"/><circle cx="518.4" cy="487.1" r="3.15"/><circle cx="526.1" cy="484.2" r="3.15"/><circle cx="516.2" cy="504.8" r="3.15"/><circle cx="519.1" cy="499.8" r="3.15"/><circle cx="523.3" cy="498.4" r="3.15"/><circle cx="519.1" cy="511.8" r="3.15"/><circle cx="528.3" cy="499.1" r="3.15"/><circle cx="537.5" cy="501.9" r="3.15"/><circle cx="540.3" cy="506.2" r="3.15"/><circle cx="539.6" cy="509.7" r="3.15"/><circle cx="537.5" cy="518.2" r="3.15"/><circle cx="536.8" cy="521.8" r="3.15"/><circle cx="549.5" cy="498.4" r="3.15"/><circle cx="550.2" cy="494.2" r="3.15"/><circle cx="547.4" cy="490.6" r="3.15"/><circle cx="551.6" cy="488.5" r="3.15"/><circle cx="557.3" cy="484.2" r="3.15"/><circle cx="560.8" cy="488.5" r="3.15"/><circle cx="562.2" cy="492.7" r="3.15"/><circle cx="551.6" cy="511.8" r="3.15"/><circle cx="553.7" cy="514.7" r="3.15"/><circle cx="562.2" cy="533.8" r="3.15"/><circle cx="558.7" cy="538.7" r="3.15"/><circle cx="563.6" cy="538" r="3.15"/><circle cx="550.7" cy="499.8" r="3.15"/><circle cx="574.1" cy="499.1" r="3.15"/><circle cx="598.8" cy="492.7" r="3.15"/><circle cx="551.4" cy="516.1" r="3.15"/><circle cx="562.7" cy="535.2" r="3.15"/><circle cx="567" cy="535.9" r="3.15"/><circle cx="569.1" cy="539.4" r="3.15"/>
</g>
<g fill="#ff7f0e" stroke="#ea7208" stroke-width="0.6">
<circle cx="383.7" cy="183.7" r="3.15"/><circle cx="468.5" cy="167.1" r="3.15"/><circle cx="463.4" cy="182.9" r="3.15"/><circle cx="365.1" cy="222.8" r="3.15"/><circle cx="334.4" cy="253.1" r="3.15"/><circle cx="343.5" cy="254.1" r="3.15"/><circle cx="481.6" cy="242.2" r="3.15"/><circle cx="474.3" cy="255.1" r="3.15"/><circle cx="361.1" cy="295.8" r="3.15"/><circle cx="269.2" cy="283.4" r="3.15"/><circle cx="265.5" cy="329.5" r="3.15"/><circle cx="262.3" cy="347.5" r="3.15"/><circle cx="264.1" cy="348.3" r="3.15"/><circle cx="260.5" cy="355.4" r="3.15"/><circle cx="234" cy="436.1" r="3.15"/><circle cx="233.2" cy="437.3" r="3.15"/><circle cx="360.6" cy="297.5" r="3.15"/><circle cx="351.7" cy="319.4" r="3.15"/><circle cx="320.5" cy="333.3" r="3.15"/><circle cx="341.6" cy="354.2" r="3.15"/><circle cx="434.6" cy="307.5" r="3.15"/><circle cx="308" cy="411.4" r="3.15"/><circle cx="523.6" cy="191.2" r="3.15"/><circle cx="565.6" cy="185.3" r="3.15"/><circle cx="614.4" cy="191.4" r="3.15"/><circle cx="623.3" cy="201.3" r="3.15"/><circle cx="627.3" cy="205.1" r="3.15"/><circle cx="606.3" cy="216.3" r="3.15"/><circle cx="654.4" cy="178.2" r="3.15"/><circle cx="673.4" cy="177" r="3.15"/><circle cx="677.5" cy="186.3" r="3.15"/><circle cx="676.5" cy="228.2" r="3.15"/><circle cx="668.4" cy="238.9" r="3.15"/><circle cx="581.4" cy="244.8" r="3.15"/><circle cx="736.5" cy="221.3" r="3.15"/><circle cx="775.5" cy="242.3" r="3.15"/><circle cx="780.2" cy="245.6" r="3.15"/><circle cx="574.5" cy="252" r="3.15"/><circle cx="607.3" cy="262.2" r="3.15"/><circle cx="666.3" cy="274.3" r="3.15"/><circle cx="693.6" cy="252" r="3.15"/><circle cx="700.5" cy="254.1" r="3.15"/><circle cx="702.5" cy="251" r="3.15"/><circle cx="700.3" cy="318.4" r="3.15"/><circle cx="563.4" cy="324.2" r="3.15"/><circle cx="565.4" cy="386.5" r="3.15"/><circle cx="578.4" cy="387.1" r="3.15"/><circle cx="592.3" cy="392.2" r="3.15"/><circle cx="567.3" cy="402.3" r="3.15"/><circle cx="784.2" cy="250.4" r="3.15"/><circle cx="791.5" cy="277.5" r="3.15"/><circle cx="838.4" cy="332.3" r="3.15"/><circle cx="822.3" cy="358.2" r="3.15"/><circle cx="802.4" cy="394" r="3.15"/><circle cx="801.2" cy="396.6" r="3.15"/><circle cx="828.5" cy="418.3" r="3.15"/><circle cx="854.4" cy="416.3" r="3.15"/><circle cx="860.5" cy="421.3" r="3.15"/><circle cx="870.4" cy="423.3" r="3.15"/><circle cx="804.5" cy="431.2" r="3.15"/><circle cx="736.3" cy="447.4" r="3.15"/><circle cx="873.3" cy="483.1" r="3.15"/><circle cx="851.5" cy="490.2" r="3.15"/><circle cx="865.2" cy="522.1" r="3.15"/><circle cx="868.5" cy="544.6" r="3.15"/><circle cx="303.1" cy="451" r="3.15"/><circle cx="241.3" cy="510.3" r="3.15"/><circle cx="248.3" cy="519.2" r="3.15"/><circle cx="256.4" cy="543" r="3.15"/><circle cx="241.3" cy="553.2" r="3.15"/><circle cx="280.3" cy="550.1" r="3.15"/><circle cx="238.4" cy="562.3" r="3.15"/><circle cx="255.4" cy="566.3" r="3.15"/><circle cx="288.4" cy="564.3" r="3.15"/><circle cx="299.5" cy="574" r="3.15"/><circle cx="295.1" cy="575.8" r="3.15"/><circle cx="294" cy="580.5" r="3.15"/><circle cx="295.5" cy="610.2" r="3.15"/><circle cx="294.5" cy="643.8" r="3.15"/><circle cx="297.5" cy="645.2" r="3.15"/><circle cx="362.4" cy="462.2" r="3.15"/><circle cx="363.4" cy="487" r="3.15"/><circle cx="312.4" cy="507.3" r="3.15"/><circle cx="420.6" cy="485.4" r="3.15"/><circle cx="447.3" cy="493.1" r="3.15"/><circle cx="403.2" cy="519.2" r="3.15"/><circle cx="418.6" cy="514.1" r="3.15"/><circle cx="415.4" cy="535.4" r="3.15"/><circle cx="343.4" cy="545.3" r="3.15"/><circle cx="317.3" cy="552.8" r="3.15"/><circle cx="316.3" cy="557.2" r="3.15"/><circle cx="401.4" cy="562.5" r="3.15"/><circle cx="407.1" cy="562.5" r="3.15"/><circle cx="431.4" cy="570.1" r="3.15"/><circle cx="351.5" cy="573.4" r="3.15"/><circle cx="416.4" cy="579" r="3.15"/><circle cx="420.4" cy="583.1" r="3.15"/><circle cx="313.5" cy="580.5" r="3.15"/><circle cx="312.4" cy="587.1" r="3.15"/><circle cx="309.6" cy="595.2" r="3.15"/><circle cx="316.1" cy="601.3" r="3.15"/><circle cx="308" cy="603.3" r="3.15"/><circle cx="351.5" cy="599.3" r="3.15"/><circle cx="395.4" cy="591.2" r="3.15"/><circle cx="388.5" cy="600.1" r="3.15"/><circle cx="437.4" cy="606.1" r="3.15"/><circle cx="407.9" cy="611" r="3.15"/><circle cx="414.6" cy="620.9" r="3.15"/><circle cx="414.6" cy="623.5" r="3.15"/><circle cx="310.6" cy="620.3" r="3.15"/><circle cx="502.3" cy="609.2" r="3.15"/><circle cx="501.3" cy="642.1" r="3.15"/><circle cx="698.5" cy="504.2" r="3.15"/><circle cx="697.5" cy="537" r="3.15"/><circle cx="690.2" cy="576.2" r="3.15"/><circle cx="637.4" cy="612.2" r="3.15"/><circle cx="687.4" cy="612.2" r="3.15"/><circle cx="718.5" cy="467.2" r="3.15"/><circle cx="777.4" cy="468.2" r="3.15"/><circle cx="714.5" cy="507.3" r="3.15"/><circle cx="762.4" cy="517.2" r="3.15"/><circle cx="723.6" cy="529.3" r="3.15"/><circle cx="744.4" cy="530.3" r="3.15"/><circle cx="780.4" cy="535.2" r="3.15"/><circle cx="728.4" cy="548.3" r="3.15"/><circle cx="718.5" cy="558.2" r="3.15"/><circle cx="814.4" cy="558.2" r="3.15"/><circle cx="775.3" cy="574.4" r="3.15"/><circle cx="779.4" cy="580.3" r="3.15"/><circle cx="765.4" cy="599.1" r="3.15"/><circle cx="780.4" cy="614.2" r="3.15"/><circle cx="726.4" cy="625.4" r="3.15"/><circle cx="725.4" cy="632" r="3.15"/><circle cx="718.5" cy="634" r="3.15"/><circle cx="739.3" cy="638.9" r="3.15"/><circle cx="760.4" cy="648" r="3.15"/><circle cx="267.4" cy="657.1" r="3.15"/><circle cx="269" cy="656.7" r="3.15"/><circle cx="285.4" cy="657.1" r="3.15"/><circle cx="301.3" cy="707.3" r="3.15"/><circle cx="417.4" cy="679.1" r="3.15"/><circle cx="503.3" cy="662.2" r="3.15"/><circle cx="336.3" cy="718.2" r="3.15"/><circle cx="401.2" cy="713.1" r="3.15"/><circle cx="412.3" cy="714.1" r="3.15"/><circle cx="390.1" cy="725.2" r="3.15"/><circle cx="405.5" cy="730.1" r="3.15"/><circle cx="410.3" cy="736" r="3.15"/><circle cx="406.5" cy="740.2" r="3.15"/><circle cx="423.9" cy="730.1" r="3.15"/><circle cx="423.9" cy="732.1" r="3.15"/><circle cx="402.2" cy="750.3" r="3.15"/><circle cx="418.2" cy="750.3" r="3.15"/><circle cx="421.4" cy="750.3" r="3.15"/><circle cx="445.3" cy="739.2" r="3.15"/><circle cx="453.4" cy="736.2" r="3.15"/><circle cx="461.3" cy="743" r="3.15"/><circle cx="464.1" cy="739" r="3.15"/><circle cx="470.2" cy="737" r="3.15"/><circle cx="477.1" cy="740.6" r="3.15"/><circle cx="480.3" cy="738.2" r="3.15"/><circle cx="503.3" cy="724.2" r="3.15"/><circle cx="495.5" cy="762.3" r="3.15"/><circle cx="494.5" cy="774.4" r="3.15"/><circle cx="361.2" cy="768.3" r="3.15"/><circle cx="482.3" cy="810.2" r="3.15"/><circle cx="556.3" cy="660.1" r="3.15"/><circle cx="569.3" cy="686" r="3.15"/><circle cx="653.4" cy="660.1" r="3.15"/><circle cx="663.3" cy="696.1" r="3.15"/><circle cx="706.6" cy="708.1" r="3.15"/><circle cx="612.3" cy="717.2" r="3.15"/><circle cx="621.2" cy="721.2" r="3.15"/><circle cx="518.5" cy="735.2" r="3.15"/><circle cx="590.3" cy="740.2" r="3.15"/><circle cx="580.2" cy="745.3" r="3.15"/><circle cx="577.4" cy="747.9" r="3.15"/><circle cx="574.3" cy="750.5" r="3.15"/><circle cx="572.7" cy="753.4" r="3.15"/><circle cx="567.3" cy="747.9" r="3.15"/><circle cx="564.4" cy="751.3" r="3.15"/><circle cx="547.4" cy="759.2" r="3.15"/><circle cx="657.2" cy="741.2" r="3.15"/><circle cx="689.4" cy="745.3" r="3.15"/><circle cx="682.3" cy="753.2" r="3.15"/><circle cx="622.3" cy="767.3" r="3.15"/><circle cx="686.4" cy="773.4" r="3.15"/><circle cx="519.3" cy="778.2" r="3.15"/><circle cx="661.3" cy="787.1" r="3.15"/><circle cx="550.3" cy="788.1" r="3.15"/><circle cx="553.3" cy="792.2" r="3.15"/><circle cx="559.4" cy="789.2" r="3.15"/><circle cx="559.4" cy="791.6" r="3.15"/><circle cx="518.5" cy="812.2" r="3.15"/><circle cx="534.3" cy="816.3" r="3.15"/><circle cx="555.3" cy="818.3" r="3.15"/><circle cx="601.2" cy="816.3" r="3.15"/><circle cx="712.4" cy="714.1" r="3.15"/><circle cx="737.3" cy="717.2" r="3.15"/><circle cx="755.3" cy="733.1" r="3.15"/><circle cx="471.8" cy="407.3" r="3.15"/><circle cx="493.3" cy="496.1" r="3.15"/><circle cx="501.5" cy="574.3" r="3.15"/><circle cx="596.5" cy="585.1" r="3.15"/><circle cx="432.4" cy="629" r="3.15"/><circle cx="436.8" cy="629" r="3.15"/><circle cx="441.7" cy="628.8" r="3.15"/><circle cx="445.7" cy="629.4" r="3.15"/><circle cx="429.2" cy="633.5" r="3.15"/><circle cx="434.4" cy="633.5" r="3.15"/><circle cx="439.3" cy="633.5" r="3.15"/><circle cx="444.1" cy="633.5" r="3.15"/><circle cx="449" cy="633.5" r="3.15"/><circle cx="453.8" cy="634.3" r="3.15"/><circle cx="428.8" cy="638.3" r="3.15"/><circle cx="433.6" cy="638.3" r="3.15"/><circle cx="438.5" cy="638.3" r="3.15"/><circle cx="443.3" cy="638.3" r="3.15"/><circle cx="448.2" cy="638.3" r="3.15"/><circle cx="453" cy="638.3" r="3.15"/><circle cx="457.9" cy="638.3" r="3.15"/><circle cx="462.7" cy="638.7" r="3.15"/><circle cx="429.2" cy="643.2" r="3.15"/><circle cx="434" cy="643.2" r="3.15"/><circle cx="438.9" cy="643.2" r="3.15"/><circle cx="443.7" cy="643.2" r="3.15"/><circle cx="448.6" cy="643.2" r="3.15"/><circle cx="453.4" cy="643.2" r="3.15"/><circle cx="458.3" cy="643.2" r="3.15"/><circle cx="462.7" cy="643.2" r="3.15"/><circle cx="439.3" cy="647.2" r="3.15"/><circle cx="444.1" cy="647.2" r="3.15"/><circle cx="449" cy="647.2" r="3.15"/><circle cx="453.8" cy="647.2" r="3.15"/><circle cx="441.7" cy="652.1" r="3.15"/><circle cx="446.6" cy="652.1" r="3.15"/><circle cx="451.4" cy="652.1" r="3.15"/><circle cx="430" cy="657.3" r="3.15"/><circle cx="434.8" cy="657.3" r="3.15"/><circle cx="439.7" cy="657.3" r="3.15"/><circle cx="444.5" cy="657.3" r="3.15"/><circle cx="449.4" cy="657.3" r="3.15"/><circle cx="454.2" cy="657.3" r="3.15"/><circle cx="458.7" cy="657.7" r="3.15"/><circle cx="430" cy="661.8" r="3.15"/><circle cx="434.8" cy="661.8" r="3.15"/><circle cx="439.7" cy="661.8" r="3.15"/><circle cx="444.5" cy="661.8" r="3.15"/><circle cx="449.4" cy="661.8" r="3.15"/><circle cx="454.2" cy="661.8" r="3.15"/><circle cx="458.7" cy="661.8" r="3.15"/><circle cx="429.6" cy="666.6" r="3.15"/><circle cx="434.4" cy="666.6" r="3.15"/><circle cx="439.3" cy="666.6" r="3.15"/><circle cx="444.1" cy="666.6" r="3.15"/><circle cx="449" cy="666.6" r="3.15"/><circle cx="453.8" cy="666.6" r="3.15"/><circle cx="457.1" cy="666.6" r="3.15"/><circle cx="431.2" cy="671.5" r="3.15"/><circle cx="436" cy="671.5" r="3.15"/><circle cx="440.9" cy="672.3" r="3.15"/><circle cx="445.7" cy="671.5" r="3.15"/><circle cx="450.6" cy="673.9" r="3.15"/><circle cx="455.5" cy="671.5" r="3.15"/><circle cx="435.2" cy="675.1" r="3.15"/><circle cx="438.5" cy="675.1" r="3.15"/><circle cx="443.3" cy="675.1" r="3.15"/><circle cx="448.2" cy="675.1" r="3.15"/><circle cx="468.4" cy="629.4" r="3.15"/><circle cx="471.6" cy="631" r="3.15"/><circle cx="476.5" cy="630.6" r="3.15"/><circle cx="475.7" cy="633.5" r="3.15"/><circle cx="474.9" cy="642.4" r="3.15"/><circle cx="473.3" cy="648" r="3.15"/><circle cx="470" cy="647.2" r="3.15"/><circle cx="465.2" cy="648" r="3.15"/><circle cx="467.6" cy="652.1" r="3.15"/><circle cx="463.5" cy="652.9" r="3.15"/><circle cx="460.3" cy="650.5" r="3.15"/><circle cx="470.8" cy="653.7" r="3.15"/><circle cx="474.9" cy="656.9" r="3.15"/><circle cx="477.3" cy="657.3" r="3.15"/><circle cx="467.6" cy="655.3" r="3.15"/><circle cx="468.4" cy="662.6" r="3.15"/><circle cx="468.4" cy="666.6" r="3.15"/><circle cx="468" cy="669.9" r="3.15"/><circle cx="468.8" cy="673.9" r="3.15"/><circle cx="471.6" cy="674.7" r="3.15"/><circle cx="474.9" cy="673.9" r="3.15"/><circle cx="560.5" cy="425.7" r="3.15"/><circle cx="564.7" cy="422.1" r="3.15"/><circle cx="556.4" cy="435.2" r="3.15"/><circle cx="556.6" cy="451.1" r="3.15"/><circle cx="541.7" cy="456.1" r="3.15"/><circle cx="549.5" cy="455.4" r="3.15"/><circle cx="554.4" cy="458.6" r="3.15"/><circle cx="544.5" cy="460.3" r="3.15"/><circle cx="546.7" cy="463.9" r="3.15"/><circle cx="546" cy="469.5" r="3.15"/><circle cx="547.4" cy="472.4" r="3.15"/><circle cx="519.4" cy="459.3" r="3.15"/><circle cx="525.8" cy="463.2" r="3.15"/><circle cx="508.4" cy="464.6" r="3.15"/><circle cx="516.2" cy="466.4" r="3.15"/><circle cx="510.9" cy="471" r="3.15"/><circle cx="532.5" cy="469.5" r="3.15"/><circle cx="537.5" cy="467.4" r="3.15"/><circle cx="521.2" cy="478.4" r="3.15"/><circle cx="557.6" cy="468.5" r="3.15"/><circle cx="584.7" cy="440.5" r="3.15"/><circle cx="595.6" cy="443.4" r="3.15"/><circle cx="578.7" cy="464.6" r="3.15"/><circle cx="564.5" cy="469.5" r="3.15"/><circle cx="519.8" cy="492" r="3.15"/><circle cx="525.4" cy="490.6" r="3.15"/><circle cx="530.4" cy="492" r="3.15"/><circle cx="535.3" cy="493.4" r="3.15"/><circle cx="539.6" cy="495.2" r="3.15"/><circle cx="504.6" cy="515" r="3.15"/><circle cx="572.6" cy="484.2" r="3.15"/><circle cx="571.2" cy="488.5" r="3.15"/><circle cx="566.3" cy="491" r="3.15"/><circle cx="571.2" cy="547.6" r="3.15"/><circle cx="450.6" cy="631.2" r="3.15"/><circle cx="455.5" cy="633.1" r="3.15"/><circle cx="459.5" cy="635.1" r="3.15"/><circle cx="463.5" cy="636.7" r="3.15"/><circle cx="457.9" cy="646.8" r="3.15"/><circle cx="458.7" cy="648" r="3.15"/>
</g>
<path d="M540.9,875.2 L530.5,875.1 L520.3,874.7 L510.0,874.0 L499.7,873.0 L489.5,871.8 L479.3,870.4 L469.1,868.6 L459.0,866.6 L449.0,864.3 L439.0,861.8 L429.1,859.0 L419.3,855.9 L409.5,852.6 L399.8,849.1 L390.3,845.2 L380.8,841.2 L371.4,836.9 L362.2,832.3 L353.1,827.5 L344.1,822.5 L335.2,817.2 L326.5,811.7 L318.0,806.0 L309.6,800.0 L301.3,793.9 L293.2,787.5 L285.3,780.9 L277.6,774.1 L270.0,767.1 L262.6,759.9 L255.4,752.6 L248.4,745.0 L241.6,737.3 L235.0,729.3 L228.7,721.2 L222.5,713.0 L216.6,704.6 L210.8,696.0 L205.3,687.3 L200.1,678.4 L195.0,669.5 L190.2,660.3 L185.7,651.1 L181.4,641.7 L177.3,632.3 L173.5,622.7 L169.9,613.1 L166.6,603.3 L163.6,593.5 L160.8,583.5 L158.2,573.6 L156.0,563.5 L153.9,553.4 L152.2,543.3 L150.7,533.1 L149.5,522.8 L148.6,512.6 L147.9,502.3 L147.5,492.0 L147.4,481.7 L147.5,471.4 L147.9,461.1 L148.6,450.8 L149.5,440.6 L150.7,430.3 L152.2,420.1 L153.9,410.0 L156.0,399.9 L158.2,389.8 L160.8,379.9 L163.6,369.9 L166.6,360.1 L169.9,350.3 L173.5,340.7 L177.3,331.1 L181.4,321.7 L185.7,312.3 L190.2,303.1 L195.0,293.9 L200.1,285.0 L205.3,276.1 L210.8,267.4 L216.6,258.8 L222.5,250.4 L228.7,242.2 L235.0,234.1 L241.6,226.1 L248.4,218.4 L255.4,210.8 L262.6,203.5 L270.0,196.3 L277.6,189.3 L285.3,182.5 L293.2,175.9 L301.3,169.5 L309.6,163.4 L318.0,157.4 L326.5,151.7 L335.2,146.2 L344.1,140.9 L353.1,135.9 L362.2,131.1 L371.4,126.5 L380.8,122.2 L390.3,118.2 L399.8,114.3 L409.5,110.8 L419.3,107.5 L429.1,104.4 L439.0,101.6 L449.0,99.1 L459.0,96.8 L469.1,94.8 L479.3,93.0 L489.5,91.6 L499.7,90.4 L510.0,89.4 L520.3,88.7 L530.5,88.3 L540.9,88.2 L551.2,88.3 L561.4,88.7 L571.7,89.4 L582.0,90.4 L592.2,91.6 L602.4,93.0 L612.6,94.8 L622.7,96.8 L632.7,99.1 L642.7,101.6 L652.6,104.4 L662.4,107.5 L672.2,110.8 L681.9,114.3 L691.4,118.2 L700.9,122.2 L710.3,126.5 L719.5,131.1 L728.6,135.9 L737.6,140.9 L746.5,146.2 L755.2,151.7 L763.7,157.4 L772.1,163.4 L780.4,169.5 L788.5,175.9 L796.4,182.5 L804.1,189.3 L811.7,196.3 L819.1,203.5 L826.3,210.8 L833.3,218.4 L840.1,226.1 L846.7,234.1 L853.0,242.2 L859.2,250.4 L865.1,258.8 L870.9,267.4 L876.4,276.1 L881.6,285.0 L886.7,293.9 L891.5,303.1 L896.0,312.3 L900.3,321.7 L904.4,331.1 L908.2,340.7 L911.8,350.3 L915.1,360.1 L918.1,369.9 L920.9,379.9 L923.5,389.8 L925.7,399.9 L927.8,410.0 L929.5,420.1 L931.0,430.3 L932.2,440.6 L933.1,450.8 L933.8,461.1 L934.2,471.4 L934.3,481.7 L934.2,492.0 L933.8,502.3 L933.1,512.6 L932.2,522.8 L931.0,533.1 L929.5,543.3 L927.8,553.4 L925.7,563.5 L923.5,573.6 L920.9,583.5 L918.1,593.5 L915.1,603.3 L911.8,613.1 L908.2,622.7 L904.4,632.3 L900.3,641.7 L896.0,651.1 L891.5,660.3 L886.7,669.5 L881.6,678.4 L876.4,687.3 L870.9,696.0 L865.1,704.6 L859.2,713.0 L853.0,721.2 L846.7,729.3 L840.1,737.3 L833.3,745.0 L826.3,752.6 L819.1,759.9 L811.7,767.1 L804.1,774.1 L796.4,780.9 L788.5,787.5 L780.4,793.9 L772.1,800.0 L763.7,806.0 L755.2,811.7 L746.5,817.2 L737.6,822.5 L728.6,827.5 L719.5,832.3 L710.3,836.9 L700.9,841.2 L691.4,845.2 L681.9,849.1 L672.2,852.6 L662.4,855.9 L652.6,859.0 L642.7,861.8 L632.7,864.3 L622.7,866.6 L612.6,868.6 L602.4,870.4 L592.2,871.8 L582.0,873.0 L571.7,874.0 L561.4,874.7 L551.2,875.1Z" fill="none" stroke="#8c564b" stroke-width="4.17"/>
<path d="M540.9,651.0 L536.4,650.9 L532.0,650.8 L527.6,650.5 L523.2,650.1 L518.8,649.5 L514.4,648.9 L510.0,648.2 L505.7,647.3 L501.3,646.3 L497.0,645.2 L492.8,644.0 L488.5,642.7 L484.3,641.3 L480.2,639.8 L476.1,638.1 L472.0,636.4 L468.0,634.5 L464.0,632.5 L460.1,630.5 L456.2,628.3 L452.4,626.0 L448.6,623.7 L445.0,621.2 L441.3,618.7 L437.8,616.0 L434.3,613.3 L430.9,610.4 L427.6,607.5 L424.3,604.5 L421.1,601.4 L418.0,598.2 L415.0,595.0 L412.1,591.6 L409.3,588.2 L406.5,584.8 L403.9,581.2 L401.3,577.6 L398.9,573.9 L396.5,570.2 L394.2,566.3 L392.1,562.5 L390.0,558.6 L388.0,554.6 L386.2,550.6 L384.4,546.5 L382.8,542.4 L381.3,538.2 L379.8,534.0 L378.5,529.8 L377.3,525.5 L376.2,521.2 L375.3,516.9 L374.4,512.6 L373.6,508.2 L373.0,503.8 L372.5,499.4 L372.1,495.0 L371.8,490.6 L371.6,486.1 L371.6,481.7 L371.6,477.3 L371.8,472.8 L372.1,468.4 L372.5,464.0 L373.0,459.6 L373.6,455.2 L374.4,450.8 L375.3,446.5 L376.2,442.2 L377.3,437.9 L378.5,433.6 L379.8,429.4 L381.3,425.2 L382.8,421.0 L384.4,416.9 L386.2,412.8 L388.0,408.8 L390.0,404.8 L392.1,400.9 L394.2,397.1 L396.5,393.2 L398.9,389.5 L401.3,385.8 L403.9,382.2 L406.5,378.6 L409.3,375.2 L412.1,371.8 L415.0,368.4 L418.0,365.2 L421.1,362.0 L424.3,358.9 L427.6,355.9 L430.9,353.0 L434.3,350.1 L437.8,347.4 L441.3,344.7 L445.0,342.2 L448.6,339.7 L452.4,337.4 L456.2,335.1 L460.1,332.9 L464.0,330.9 L468.0,328.9 L472.0,327.0 L476.1,325.3 L480.2,323.6 L484.3,322.1 L488.5,320.7 L492.8,319.4 L497.0,318.2 L501.3,317.1 L505.7,316.1 L510.0,315.2 L514.4,314.5 L518.8,313.9 L523.2,313.3 L527.6,312.9 L532.0,312.6 L536.4,312.5 L540.9,312.4 L545.3,312.5 L549.7,312.6 L554.1,312.9 L558.5,313.3 L562.9,313.9 L567.3,314.5 L571.7,315.2 L576.0,316.1 L580.4,317.1 L584.7,318.2 L588.9,319.4 L593.2,320.7 L597.4,322.1 L601.5,323.6 L605.6,325.3 L609.7,327.0 L613.7,328.9 L617.7,330.9 L621.6,332.9 L625.5,335.1 L629.3,337.4 L633.1,339.7 L636.7,342.2 L640.4,344.7 L643.9,347.4 L647.4,350.1 L650.8,353.0 L654.1,355.9 L657.4,358.9 L660.6,362.0 L663.7,365.2 L666.7,368.4 L669.6,371.8 L672.4,375.2 L675.2,378.6 L677.8,382.2 L680.4,385.8 L682.8,389.5 L685.2,393.2 L687.5,397.1 L689.6,400.9 L691.7,404.8 L693.7,408.8 L695.5,412.8 L697.3,416.9 L698.9,421.0 L700.4,425.2 L701.9,429.4 L703.2,433.6 L704.4,437.9 L705.5,442.2 L706.4,446.5 L707.3,450.8 L708.1,455.2 L708.7,459.6 L709.2,464.0 L709.6,468.4 L709.9,472.8 L710.1,477.3 L710.1,481.7 L710.1,486.1 L709.9,490.6 L709.6,495.0 L709.2,499.4 L708.7,503.8 L708.1,508.2 L707.3,512.6 L706.4,516.9 L705.5,521.2 L704.4,525.5 L703.2,529.8 L701.9,534.0 L700.4,538.2 L698.9,542.4 L697.3,546.5 L695.5,550.6 L693.7,554.6 L691.7,558.6 L689.6,562.5 L687.5,566.3 L685.2,570.2 L682.8,573.9 L680.4,577.6 L677.8,581.2 L675.2,584.8 L672.4,588.2 L669.6,591.6 L666.7,595.0 L663.7,598.2 L660.6,601.4 L657.4,604.5 L654.1,607.5 L650.8,610.4 L647.4,613.3 L643.9,616.0 L640.4,618.7 L636.7,621.2 L633.1,623.7 L629.3,626.0 L625.5,628.3 L621.6,630.5 L617.7,632.5 L613.7,634.5 L609.7,636.4 L605.6,638.1 L601.5,639.8 L597.4,641.3 L593.2,642.7 L588.9,644.0 L584.7,645.2 L580.4,646.3 L576.0,647.3 L571.7,648.2 L567.3,648.9 L562.9,649.5 L558.5,650.1 L554.1,650.5 L549.7,650.8 L545.3,650.9Z" fill="none" stroke="#2ca02c" stroke-width="4.17"/>
<path d="M540.9,605.4 L537.6,605.4 L534.4,605.3 L531.1,605.0 L527.9,604.7 L524.7,604.4 L521.5,603.9 L518.3,603.4 L515.1,602.7 L512.0,602.0 L508.8,601.2 L505.7,600.3 L502.6,599.4 L499.5,598.3 L496.5,597.2 L493.5,596.0 L490.5,594.7 L487.6,593.4 L484.7,591.9 L481.8,590.4 L479.0,588.8 L476.2,587.2 L473.5,585.5 L470.8,583.7 L468.1,581.8 L465.5,579.9 L463.0,577.9 L460.5,575.8 L458.1,573.6 L455.7,571.4 L453.4,569.2 L451.1,566.9 L448.9,564.5 L446.8,562.1 L444.7,559.6 L442.7,557.0 L440.8,554.4 L438.9,551.8 L437.1,549.1 L435.4,546.3 L433.7,543.6 L432.1,540.7 L430.6,537.9 L429.2,535.0 L427.8,532.0 L426.5,529.0 L425.3,526.0 L424.2,523.0 L423.2,519.9 L422.2,516.8 L421.3,513.7 L420.5,510.6 L419.8,507.4 L419.2,504.2 L418.6,501.1 L418.2,497.8 L417.8,494.6 L417.5,491.4 L417.3,488.2 L417.2,484.9 L417.1,481.7 L417.2,478.5 L417.3,475.2 L417.5,472.0 L417.8,468.8 L418.2,465.6 L418.6,462.3 L419.2,459.2 L419.8,456.0 L420.5,452.8 L421.3,449.7 L422.2,446.6 L423.2,443.5 L424.2,440.4 L425.3,437.4 L426.5,434.4 L427.8,431.4 L429.2,428.4 L430.6,425.5 L432.1,422.7 L433.7,419.8 L435.4,417.1 L437.1,414.3 L438.9,411.6 L440.8,409.0 L442.7,406.4 L444.7,403.8 L446.8,401.3 L448.9,398.9 L451.1,396.5 L453.4,394.2 L455.7,392.0 L458.1,389.8 L460.5,387.6 L463.0,385.5 L465.5,383.5 L468.1,381.6 L470.8,379.7 L473.5,377.9 L476.2,376.2 L479.0,374.6 L481.8,373.0 L484.7,371.5 L487.6,370.0 L490.5,368.7 L493.5,367.4 L496.5,366.2 L499.5,365.1 L502.6,364.0 L505.7,363.1 L508.8,362.2 L512.0,361.4 L515.1,360.7 L518.3,360.0 L521.5,359.5 L524.7,359.0 L527.9,358.7 L531.1,358.4 L534.4,358.1 L537.6,358.0 L540.9,358.0 L544.1,358.0 L547.3,358.1 L550.6,358.4 L553.8,358.7 L557.0,359.0 L560.2,359.5 L563.4,360.0 L566.6,360.7 L569.7,361.4 L572.9,362.2 L576.0,363.1 L579.1,364.0 L582.2,365.1 L585.2,366.2 L588.2,367.4 L591.2,368.7 L594.1,370.0 L597.0,371.5 L599.9,373.0 L602.7,374.6 L605.5,376.2 L608.2,377.9 L610.9,379.7 L613.6,381.6 L616.2,383.5 L618.7,385.5 L621.2,387.6 L623.6,389.8 L626.0,392.0 L628.3,394.2 L630.6,396.5 L632.8,398.9 L634.9,401.3 L637.0,403.8 L639.0,406.4 L640.9,409.0 L642.8,411.6 L644.6,414.3 L646.3,417.1 L648.0,419.8 L649.6,422.7 L651.1,425.5 L652.5,428.4 L653.9,431.4 L655.2,434.4 L656.4,437.4 L657.5,440.4 L658.5,443.5 L659.5,446.6 L660.4,449.7 L661.2,452.8 L661.9,456.0 L662.5,459.2 L663.1,462.3 L663.5,465.6 L663.9,468.8 L664.2,472.0 L664.4,475.2 L664.5,478.5 L664.6,481.7 L664.5,484.9 L664.4,488.2 L664.2,491.4 L663.9,494.6 L663.5,497.8 L663.1,501.1 L662.5,504.2 L661.9,507.4 L661.2,510.6 L660.4,513.7 L659.5,516.8 L658.5,519.9 L657.5,523.0 L656.4,526.0 L655.2,529.0 L653.9,532.0 L652.5,535.0 L651.1,537.9 L649.6,540.7 L648.0,543.6 L646.3,546.3 L644.6,549.1 L642.8,551.8 L640.9,554.4 L639.0,557.0 L637.0,559.6 L634.9,562.1 L632.8,564.5 L630.6,566.9 L628.3,569.2 L626.0,571.4 L623.6,573.6 L621.2,575.8 L618.7,577.9 L616.2,579.9 L613.6,581.8 L610.9,583.7 L608.2,585.5 L605.5,587.2 L602.7,588.8 L599.9,590.4 L597.0,591.9 L594.1,593.4 L591.2,594.7 L588.2,596.0 L585.2,597.2 L582.2,598.3 L579.1,599.4 L576.0,600.3 L572.9,601.2 L569.7,602.0 L566.6,602.7 L563.4,603.4 L560.2,603.9 L557.0,604.4 L553.8,604.7 L550.6,605.0 L547.3,605.3 L544.1,605.4Z" fill="none" stroke="#2ca02c" stroke-width="4.17" stroke-dasharray="15.4 6.67"/>
<path d="M529.3,481.9H552.9M541.1,470.1V493.7" stroke="#d62728" stroke-width="4.2" fill="none"/>
</g>
<text x="99.8" y="197.2" font-size="20.83" text-anchor="end">−12°</text>
<text x="99.8" y="370.1" font-size="20.83" text-anchor="end">−14°</text>
<text x="99.8" y="542.0" font-size="20.83" text-anchor="end">−16°</text>
<text x="99.8" y="714.0" font-size="20.83" text-anchor="end">−18°</text>
<text x="99.8" y="887.0" font-size="20.83" text-anchor="end">−20°</text>
<text x="193.9" y="938.1" font-size="20.83" text-anchor="middle"><tspan>13</tspan><tspan font-size="15" dy="-8.4">h</tspan><tspan dy="8.4" font-size="1">​</tspan><tspan>10</tspan><tspan font-size="15" dy="-8.4">m</tspan></text>
<text x="396.4" y="939.0" font-size="20.83" text-anchor="middle"><tspan>00</tspan><tspan font-size="15" dy="-8.4">m</tspan></text>
<text x="598.3" y="938.1" font-size="20.83" text-anchor="middle"><tspan>12</tspan><tspan font-size="15" dy="-8.4">h</tspan><tspan dy="8.4" font-size="1">​</tspan><tspan>50</tspan><tspan font-size="15" dy="-8.4">m</tspan></text>
<text x="800.5" y="939.0" font-size="20.83" text-anchor="middle"><tspan>40</tspan><tspan font-size="15" dy="-8.4">m</tspan></text>
<path d="M108.0,191.3h7.3M974.0,191.3h-7.3M108.0,364.2h7.3M974.0,364.2h-7.3M108.0,536.1h7.3M974.0,536.1h-7.3M108.0,708.1h7.3M974.0,708.1h-7.3M108.0,881.1h7.3M974.0,881.1h-7.3M194.2,915.0v-7.3M176.9,48.9v7.3M396.7,915.0v-7.3M389.5,48.9v7.3M598.6,915.0v-7.3M601.5,48.9v7.3M800.8,915.0v-7.3M813.7,48.9v7.3" stroke="#000" stroke-width="2.08" fill="none"/>
<rect x="108.0" y="48.9" width="866.0" height="866.1" fill="none" stroke="#000" stroke-width="1.67"/>
<text x="541" y="970.3" font-size="20.83" text-anchor="middle">RA</text>
<text transform="translate(31.5,485) rotate(-90)" font-size="20.83" text-anchor="middle">DEC</text>
<text x="422.5" y="35.8" font-size="25"><tspan font-style="italic">z</tspan><tspan font-style="italic" font-size="17.5" dy="4">spec</tspan><tspan dy="-4"> - Objects: 713</tspan></text>
<rect x="118.2" y="59.1" width="360.8" height="230.7" rx="4.2" fill="#fff" fill-opacity="0.8" stroke="#ccc" stroke-opacity="0.8" stroke-width="1.67"/>
<circle cx="147.4" cy="78.3" r="3.15" fill="#d62728" stroke="#b81f20" stroke-width="0.6"/><circle cx="147.4" cy="108.7" r="3.15" fill="#1f77b4" stroke="#1a6496" stroke-width="0.6"/><circle cx="147.4" cy="139.2" r="3.15" fill="#ff7f0e" stroke="#e06c08" stroke-width="0.6"/>
<path d="M135.5,168.8H158.9M147.2,157.1V180.5" stroke="#d62728" stroke-width="4.2" fill="none"/>
<rect x="126" y="192.8" width="41.7" height="14.6" fill="none" stroke="#2ca02c" stroke-width="4.17"/>
<path d="M126.1,241.7H167.8V227.1H126.1Z" fill="none" stroke="#2ca02c" stroke-width="4.17" stroke-dasharray="15.4 6.67"/>
<rect x="126" y="261.3" width="41.7" height="14.6" fill="none" stroke="#8c564b" stroke-width="4.17"/>
<g font-size="20.83">
<text x="185.7" y="84.1">Unclassified</text><text x="185.7" y="114.4">Member (400)</text><text x="185.7" y="144.8">Interloper (395)</text><text x="185.7" y="175.2">Cluster Center</text>
<text x="185.7" y="207.0">5×R200 (6.47Mpc • 1.97<tspan font-size="16.5" dy="-7.9" dx="2.3">∘</tspan><tspan dy="7.9" dx="3.4">)</tspan></text>
<text x="185.7" y="241.5">5×R500 (4.71Mpc • 1.44<tspan font-size="16.5" dy="-7.9" dx="2.3">∘</tspan><tspan dy="7.9" dx="3.4">)</tspan></text>
<text x="185.7" y="275.3">15.00Mpc (4.571<tspan font-size="16.5" dy="-7.9" dx="2.3">∘</tspan><tspan dy="7.9" dx="3.4">)</tspan></text>
</g>
</svg></body></html>
